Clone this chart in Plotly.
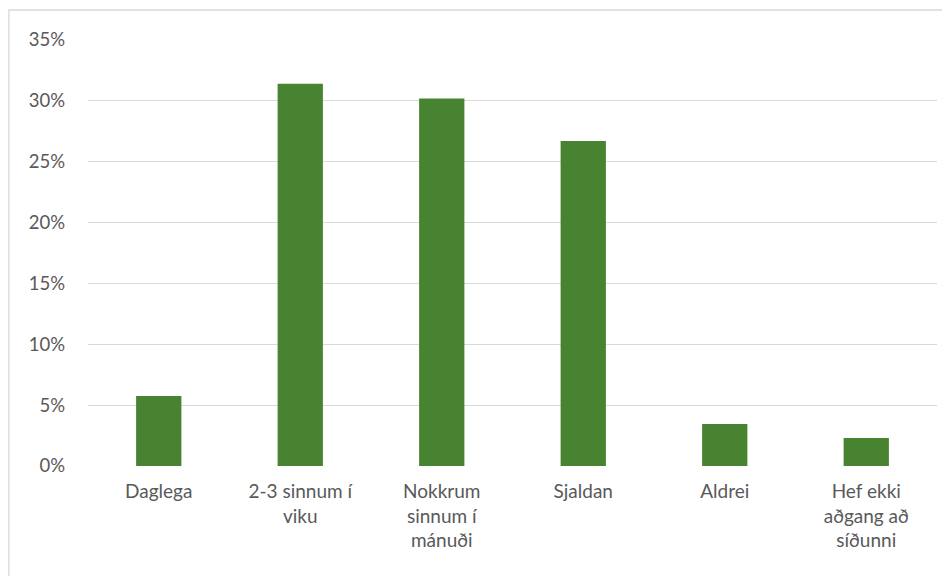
import plotly.graph_objects as go

categories = ["Daglega", "2-3 sinnum í<br>viku", "Nokkrum<br>sinnum í<br>mánuði", "Sjaldan", "Aldrei", "Hef ekki<br>aðgang að<br>síðunni"]
values = [0.0575, 0.314, 0.302, 0.267, 0.0345, 0.023]
tick_vals = [0, 0.05, 0.10, 0.15, 0.20, 0.25, 0.30, 0.35]
tick_text = ["0%", "5%", "10%", "15%", "20%", "25%", "30%", "35%"]

fig = go.Figure(go.Bar(x=categories, y=values, marker=dict(color="#478330", line_width=0)))

fig.update_layout(
    width=942, height=568,
    margin=dict(l=80, r=13, t=32, b=110),
    paper_bgcolor="white", plot_bgcolor="white",
    bargap=0.68,
    showlegend=False,
    font=dict(family="Lato, Carlito, Calibri, sans-serif", size=18, color="#595959"),
    xaxis=dict(showgrid=False, showline=False, zeroline=False, ticks="", tickfont=dict(size=19),
               ticklabelstandoff=12),
    yaxis=dict(range=[0, 0.35], tickvals=tick_vals, ticktext=tick_text, showgrid=True,
               gridcolor="#d9d9d9", gridwidth=1, zeroline=False, showline=False, ticks="",
               ticklabelstandoff=22, tickfont=dict(size=18.5)),
    shapes=[dict(type="rect", xref="paper", yref="paper", x0=-0.0932, x1=1.013, y0=-0.3, y1=1.0704,
                 line=dict(color="#d9d9d9", width=1.3), fillcolor="rgba(0,0,0,0)", layer="below")],
)

fig.write_html("out.html", config={"displayModeBar": False})
